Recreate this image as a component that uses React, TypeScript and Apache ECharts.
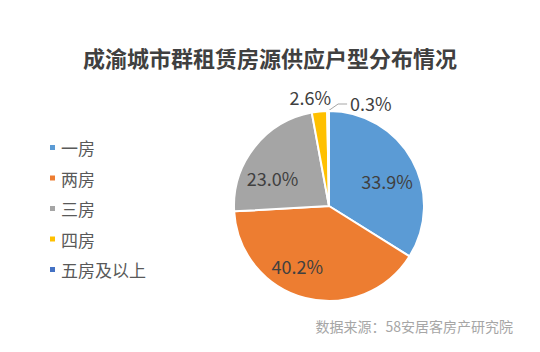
import React, { useEffect, useRef } from "react";
import * as echarts from "echarts";

const categories = ["一房", "两房", "三房", "四房", "五房及以上"];
const values = [33.9, 40.2, 23.0, 2.6, 0.3];
const colors = ["#5B9BD5", "#ED7D31", "#A5A5A5", "#FFC000", "#4472C4"];
const titleText = "成渝城市群租赁房源供应户型分布情况";
const sourceText = "数据来源：58安居客房产研究院";

const FONT = "'Noto Sans CJK SC', 'Noto Sans', sans-serif";

export default function App() {
  const ref = useRef<HTMLDivElement>(null);
  useEffect(() => {
    if (!ref.current) return;
    const chart = echarts.init(ref.current, undefined, { renderer: "svg" });
    const fmt = (p: any) => p.value.toFixed(1) + "%";
    const insideOffsets: any = { 0: [3, 6], 1: [-16, -1], 2: [-7, 11] };
    const mainData = categories.map((name, i) => {
      const item: any = { name, value: values[i], itemStyle: { color: colors[i] } };
      if (i === 3) {
        item.label = { show: true, position: "outside", offset: [17, -10] };
        item.labelLine = { show: false, length: 4, length2: 0 };
      } else if (i === 4) {
        item.label = { show: true, position: "outside" };
        item.labelLine = { show: true, length: 5, length2: 8 };
      }
      return item;
    });
    const ghostData = categories.map((name, i) => ({
      name,
      value: values[i],
      itemStyle: { color: "rgba(0,0,0,0)", borderWidth: 0 },
      label: i < 3 ? { show: true, position: "inside", offset: insideOffsets[i] } : { show: false },
    }));
    chart.setOption({
      animation: false,
      backgroundColor: "#ffffff",
      title: {
        text: titleText,
        left: "center",
        top: 41,
        textStyle: { fontFamily: FONT, fontSize: 22, fontWeight: "bold", color: "#404040" },
      },
      legend: {
        orient: "vertical",
        left: 43,
        top: 134,
        itemWidth: 7,
        itemHeight: 7,
        itemGap: 13.5,
        icon: "rect",
        data: categories.map((name, i) => ({ name, itemStyle: { color: colors[i] } })),
        textStyle: { fontFamily: FONT, fontSize: 17, color: "#595959", lineHeight: 17 },
      },
      graphic: [
        {
          type: "text",
          right: 27,
          top: 319,
          style: { text: sourceText, fill: "#A6A6A6", fontSize: 14, fontFamily: FONT },
        },
      ],
      series: [
        {
          type: "pie",
          center: [329, 206],
          radius: 95,
          startAngle: 90,
          clockwise: true,
          avoidLabelOverlap: false,
          silent: true,
          itemStyle: { borderColor: "#ffffff", borderWidth: 2 },
          label: {
            show: false,
            formatter: fmt,
            fontFamily: FONT,
            fontSize: 18,
            color: "#404040",
          },
          labelLine: { lineStyle: { color: "#A6A6A6", width: 1 } },
          labelLayout: (params: any) => {
            if (params.dataIndex === 4 && params.labelLinePoints) {
              const p0 = params.labelLinePoints[0];
              const p1 = [p0[0] + 10, p0[1] - 7];
              const p2 = [p1[0] + 9, p1[1]];
              return {
                x: p2[0] + 3,
                y: p2[1] - 1,
                align: "left",
                verticalAlign: "middle",
                labelLinePoints: [p0, p1, p2],
              };
            }
            return {};
          },
          emphasis: { disabled: true },
          data: mainData,
        },
        {
          type: "pie",
          center: [329, 206],
          radius: 120,
          startAngle: 90,
          clockwise: true,
          silent: true,
          z: 3,
          label: {
            formatter: fmt,
            fontFamily: FONT,
            fontSize: 18,
            color: "#404040",
          },
          labelLine: { show: false },
          emphasis: { disabled: true },
          data: ghostData,
        },
      ],
    });
    return () => chart.dispose();
  }, []);
  return (
    <div
      ref={ref}
      style={{ position: "fixed", left: 0, top: 0, width: 540, height: 352 }}
    />
  );
}
